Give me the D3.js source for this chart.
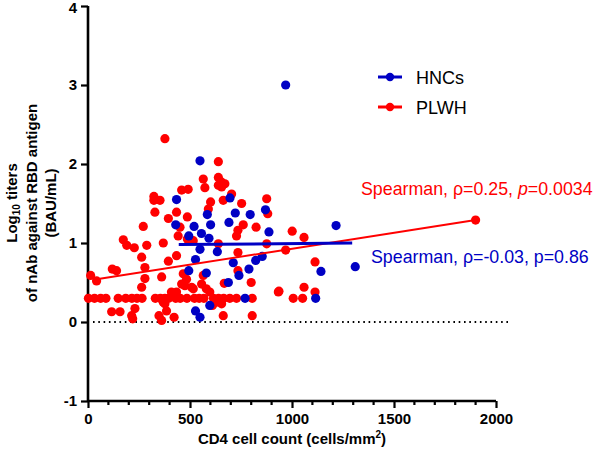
<!DOCTYPE html>
<html>
<head>
<meta charset="utf-8">
<script src="https://cdn.jsdelivr.net/npm/d3@7"></script>
<style>
  html, body { margin: 0; padding: 0; background: #fff; }
  svg { display: block; font-family: "Liberation Sans", Arial, sans-serif; }
</style>
</head>
<body>
<svg id="chart" width="597" height="460"></svg>
<script>
// ---- Data ----
const seriesNames = ["HNCs", "PLWH"];

// PLWH (red) — CD4 count and log10 titer
const plwhX = [
  2, 32, 62, 88, 148, 185, 215, 240, 265, 330, 355, 377, 395, 430, 452, 485, 522, 545, 568, 615, 640, 665, 695, 728, 805, 1006, 1052,
  377, 639, 565, 573, 639, 655, 671, 639, 655, 459, 491, 704, 323, 323, 353, 601, 663, 753, 876, 881,
  328, 434, 394, 487, 590, 271, 451, 761, 824, 442, 487, 516, 735, 728, 173, 190, 227, 288, 369, 876, 639,
  263, 434, 394, 735, 279, 119, 140, 13, 42, 361, 279, 467, 483, 565, 557, 735, 800, 263, 409, 434, 459, 475,
  516, 580, 597, 933, 668, 508, 214, 116, 157, 230, 348, 361, 385, 422, 663, 805, 369, 610, 630, 655,
  1001, 1059, 969, 1113, 936, 1059, 1113, 1900, 219, 377
];
const plwhY = [
  0.30, 0.30, 0.30, 0.30, 0.30, 0.30, 0.30, 0.30, 0.30, 0.30, 0.30, 0.30, 0.30, 0.30, 0.30, 0.30, 0.30, 0.30, 0.30, 0.30, 0.30, 0.30, 0.30, 0.30, 0.30, 0.30, 0.30,
  2.32, 2.03, 1.81, 1.70, 1.83, 1.77, 1.75, 1.73, 1.71, 1.67, 1.68, 1.62, 1.59, 1.54, 1.54, 1.52, 1.54, 1.50, 1.56, 1.37,
  1.39, 1.39, 1.31, 1.33, 1.43, 1.21, 1.20, 1.23, 1.20, 1.09, 1.05, 1.03, 1.16, 1.09, 1.04, 0.97, 0.94, 0.97, 1.00, 0.99, 0.99,
  0.82, 0.84, 0.77, 0.88, 0.69, 0.67, 0.65, 0.59, 0.52, 0.57, 0.55, 0.61, 0.54, 0.59, 0.48, 0.65, 0.50, 0.44, 0.38, 0.38, 0.48, 0.46,
  0.42, 0.42, 0.38, 0.38, 0.49, 0.44, 0.08, 0.13, 0.13, 0.17, 0.08, 0.02, 0.14, 0.06, 0.08, 0.08, 0.25, 0.21, 0.25, 0.23,
  1.15, 1.07, 0.91, 0.76, 0.39, 0.44, 0.38, 1.29, 0.04, 0.23
];

// HNCs (blue)
const hncX = [
  549, 434, 696, 585, 722, 795, 870, 430, 520, 601, 691, 887, 494, 556, 593, 549, 634, 527, 712, 822,
  854, 789, 494, 580, 740, 688, 770, 597, 527, 549, 969, 1216, 1142, 1310, 1116
];
const hncY = [
  2.04, 1.55, 1.57, 1.36, 1.38, 1.36, 1.42, 1.23, 1.21, 1.23, 1.26, 1.14, 1.09, 1.12, 1.06, 0.92, 0.89, 0.79, 0.75, 0.78,
  0.83, 0.67, 0.65, 0.62, 0.59, 0.50, 0.30, 0.21, 0.14, 0.06, 3.00, 1.22, 0.64, 0.70, 0.30
];

// Fitted lines (end points)
const plwhFitX = [50, 1900];
const plwhFitY = [0.545, 1.29];
const hncFitX = [445, 1295];
const hncFitY = [0.98, 1.00];

// Axis ticks
const xTicks = [0, 500, 1000, 1500, 2000];
const xMinorTicks = d3.range(0, 2001, 100);
const yTicks = [-1, 0, 1, 2, 3, 4];

const plwhLabel = ["Spearman, \u03C1=0.25, ", "p", "=0.0034"];
const hncLabel = "Spearman, \u03C1=-0.03, p=0.86";

// ---- Drawing ----
const RED = "#ff0000";
const BLUE = "#0000c4";
const svg = d3.select("#chart");

const x = d3.scaleLinear().domain([0, 2000]).range([88, 496]);
const y = d3.scaleLinear().domain([-1, 4]).range([401, 6]);
const fmt = d => String(d);

// dotted zero line
svg.append("line")
  .attr("x1", x(0) + 5).attr("x2", x(2060))
  .attr("y1", y(0)).attr("y2", y(0))
  .attr("stroke", "#000").attr("stroke-width", 2)
  .attr("stroke-dasharray", "1.6,3.7");

// X axis
const xAxis = svg.append("g").attr("transform", `translate(0,${y(-1)})`);
xAxis.call(d3.axisBottom(x).tickValues(xTicks).tickSize(7).tickPadding(5).tickFormat(fmt));
xAxis.selectAll(".tick line").attr("stroke-width", 2.2);
xAxis.append("g").selectAll("line").data(xMinorTicks.filter(d => d % 500 !== 0)).join("line")
  .attr("x1", d => x(d)).attr("x2", d => x(d)).attr("y1", 0).attr("y2", 4)
  .attr("stroke", "#000").attr("stroke-width", 2.2);

// Y axis
const yAxis = svg.append("g").attr("transform", `translate(${x(0)},0)`);
yAxis.call(d3.axisLeft(y).tickValues(yTicks).tickSize(7).tickPadding(4).tickFormat(fmt));
yAxis.selectAll(".tick line").attr("stroke-width", 2.2);

[xAxis, yAxis].forEach(g => {
  g.select(".domain").attr("stroke-width", 2.6).attr("stroke", "#000");
  g.selectAll(".tick text").attr("font-size", 15).attr("font-weight", "bold").attr("fill", "#000")
    .attr("font-family", "'Liberation Sans', Arial, sans-serif");
});
// keep the top label inside the picture
yAxis.selectAll(".tick").filter(d => d === 4).select("text").attr("dy", "0.42em");
xAxis.select(".domain").attr("d", `M${x(0)},0H${x(2000)}`);
yAxis.select(".domain").attr("d", `M0,${y(-1)}V${y(4)}`);

// points
const r = 4.6;
svg.append("g").selectAll("circle").data(plwhX.map((d, i) => [d, plwhY[i]])).join("circle")
  .attr("cx", d => x(d[0])).attr("cy", d => y(d[1])).attr("r", r).attr("fill", RED);
svg.append("g").selectAll("circle").data(hncX.map((d, i) => [d, hncY[i]])).join("circle")
  .attr("cx", d => x(d[0])).attr("cy", d => y(d[1])).attr("r", r).attr("fill", BLUE);

// fit lines
svg.append("line")
  .attr("x1", x(plwhFitX[0])).attr("x2", x(plwhFitX[1]))
  .attr("y1", y(plwhFitY[0])).attr("y2", y(plwhFitY[1]))
  .attr("stroke", RED).attr("stroke-width", 2);
svg.append("line")
  .attr("x1", x(hncFitX[0])).attr("x2", x(hncFitX[1]))
  .attr("y1", y(hncFitY[0])).attr("y2", y(hncFitY[1]))
  .attr("stroke", BLUE).attr("stroke-width", 3);

// axis titles
const yt = svg.append("text").attr("transform", "translate(0,203) rotate(-90)")
  .attr("text-anchor", "middle").attr("font-weight", "bold").attr("font-size", 15).attr("fill", "#000");
const l1 = yt.append("tspan").attr("x", 0).attr("y", 17);
l1.append("tspan").text("Log");
l1.append("tspan").attr("font-size", 10).attr("dy", 3).text("10");
l1.append("tspan").attr("dy", -3).text(" titers");
yt.append("tspan").attr("x", 0).attr("y", 36.5).text("of nAb against RBD antigen");
yt.append("tspan").attr("x", 0).attr("y", 55.5).text("(BAU/mL)");

const xt = svg.append("text").attr("x", 292).attr("y", 444)
  .attr("text-anchor", "middle").attr("font-weight", "bold").attr("font-size", 15).attr("fill", "#000");
xt.append("tspan").text("CD4 cell count (cells/mm");
xt.append("tspan").attr("font-size", 10).attr("dy", -6).text("2");
xt.append("tspan").attr("dy", 6).text(")");

// legend
const legColors = [BLUE, RED];
const leg = svg.append("g");
seriesNames.forEach((name, i) => {
  const ly = 77 + i * 30;
  leg.append("line").attr("x1", 378).attr("x2", 402).attr("y1", ly).attr("y2", ly)
    .attr("stroke", legColors[i]).attr("stroke-width", 3);
  leg.append("circle").attr("cx", 390).attr("cy", ly).attr("r", 4.2).attr("fill", legColors[i]);
  leg.append("text").attr("x", 416).attr("y", ly + 6.5).attr("font-size", 18).attr("fill", "#000").text(name);
});

// annotations
const ta = svg.append("text").attr("x", 361).attr("y", 195).attr("font-size", 17.8).attr("fill", RED);
ta.append("tspan").text(plwhLabel[0]);
ta.append("tspan").attr("font-style", "italic").text(plwhLabel[1]);
ta.append("tspan").text(plwhLabel[2]);
svg.append("text").attr("x", 371).attr("y", 263).attr("font-size", 17.8).attr("fill", BLUE).text(hncLabel);
</script>
</body>
</html>
